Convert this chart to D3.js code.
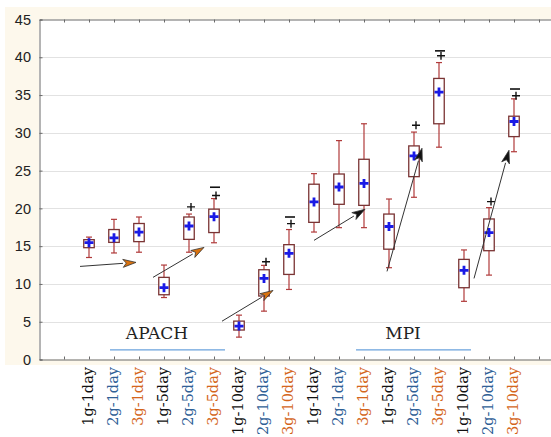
<!DOCTYPE html>
<html>
<head>
<meta charset="utf-8">
<script src="https://cdn.jsdelivr.net/npm/d3@7"></script>
<style>
  html, body { margin: 0; padding: 0; background: #fff; }
  svg { display: block; }
</style>
</head>
<body>
<div id="container"></div>
<script>
// category labels (same set for both groups)
const labels = ['1g-1day', '2g-1day', '3g-1day', '1g-5day', '2g-5day', '3g-5day', '1g-10day', '2g-10day', '3g-10day'];
const groups = ['APACH', 'MPI'];

// APACH stats
const apachMean = [15.46, 16.1, 16.87, 9.5, 17.67, 18.9, 4.42, 10.73, 14.05];
const apachBoxLo = [14.8, 15.5, 15.6, 8.57, 15.9, 16.8, 3.9, 8.4, 11.26];
const apachBoxHi = [15.86, 17.2, 18.0, 10.87, 18.86, 19.9, 5.08, 11.88, 15.2];
const apachWhiskLo = [13.5, 14.1, 14.2, 8.2, 14.2, 15.45, 2.96, 6.4, 9.27];
const apachWhiskHi = [16.2, 18.55, 18.86, 12.5, 19.25, 21.3, 5.87, 12.46, 17.2];
const apachPlus = [null, null, null, null, 20.2, 21.7, null, 12.94, 17.98];
const apachMinus = [null, null, null, null, null, 22.8, null, null, 18.86];

// MPI stats
const mpiMean = [20.85, 22.83, 23.3, 17.6, 26.94, 35.4, 11.8, 16.8, 31.5];
const mpiBoxLo = [18.15, 20.54, 20.4, 14.6, 24.2, 31.2, 9.5, 14.4, 29.5];
const mpiBoxHi = [23.2, 24.55, 26.5, 19.25, 28.27, 37.2, 13.25, 18.6, 32.2];
const mpiWhiskLo = [16.87, 17.45, 17.45, 12.15, 21.47, 28.1, 7.7, 11.17, 27.5];
const mpiWhiskHi = [24.6, 28.97, 31.2, 21.24, 30.1, 39.3, 14.5, 20.1, 34.5];
const mpiPlus = [null, null, null, null, 31.0, 40.2, null, 20.9, 34.9];
const mpiMinus = [null, null, null, null, null, 40.85, null, null, 35.8];

// y ticks
const yTicks = [0, 5, 10, 15, 20, 25, 30, 35, 40, 45];

// trend arrows [x1, y1, x2, y2] in data units, and head colour
const arrows = [
  [1.64, 12.32, 3.88, 12.85, 'orange'],
  [4.56, 10.87, 6.6, 14.84, 'orange'],
  [7.32, 5.07, 9.36, 9.14, 'orange'],
  [11.0, 15.77, 13.04, 19.88, 'black'],
  [13.92, 11.66, 15.32, 27.96, 'black'],
  [17.4, 10.73, 18.8, 27.69, 'black']
];

// group captions: [text, centre x, underline from, underline to]
const captions = [
  ['APACH', 4.72, 2.84, 7.44],
  ['MPI', 14.56, 12.68, 17.28]
];

const labelColors = { '1g': '#111111', '2g': '#2f6096', '3g': '#d4661c' };
const serifFont = 'DejaVu Serif';
const sansFont = 'Liberation Sans';

// build rows
const rows = [];
labels.forEach((l, i) => rows.push({ label: l, x: i + 2, mean: apachMean[i], lo: apachBoxLo[i], hi: apachBoxHi[i], wlo: apachWhiskLo[i], whi: apachWhiskHi[i], plus: apachPlus[i], minus: apachMinus[i] }));
labels.forEach((l, i) => rows.push({ label: l, x: i + 11, mean: mpiMean[i], lo: mpiBoxLo[i], hi: mpiBoxHi[i], wlo: mpiWhiskLo[i], whi: mpiWhiskHi[i], plus: mpiPlus[i], minus: mpiMinus[i] }));

const width = 551;
const height = 437;

const svg = d3.select('#container').append('svg')
  .attr('width', width)
  .attr('height', height);

// cream frame
svg.append('rect')
  .attr('x', 5).attr('y', 7)
  .attr('width', width - 5).attr('height', 358)
  .attr('fill', '#fdf8ec');

const xScale = d3.scaleLinear().domain([0, 20.5]).range([39, 551.5]);
const yScale = d3.scaleLinear().domain([0, 45]).range([359.5, 19.5]);

// plot area
svg.append('rect')
  .attr('x', 39).attr('y', 19.5)
  .attr('width', width - 39).attr('height', 340)
  .attr('fill', '#fff');

// gridlines
svg.append('g')
  .selectAll('line')
  .data(yTicks.filter(t => t > 0 && t < 45))
  .enter().append('line')
  .attr('x1', 39).attr('x2', width)
  .attr('y1', d => Math.round(yScale(d)) + 0.5)
  .attr('y2', d => Math.round(yScale(d)) + 0.5)
  .attr('stroke', '#e2e2e2')
  .attr('stroke-width', 1.2);

// axes
const xTicks = d3.range(1, 21);
const axisColor = '#6a6a6a';

const yAxis = svg.append('g')
  .attr('transform', 'translate(39.5,0)')
  .call(d3.axisRight(yScale).tickValues(yTicks).tickSize(3).tickFormat(''));
yAxis.select('.domain').attr('stroke', axisColor);
yAxis.selectAll('line').attr('stroke', axisColor);

svg.append('g')
  .selectAll('text')
  .data(yTicks)
  .enter().append('text')
  .attr('font-family', sansFont)
  .attr('x', 31)
  .attr('y', d => yScale(d))
  .attr('dy', '0.36em')
  .attr('text-anchor', 'end')
  .attr('font-size', 14.5)
  .attr('fill', '#222')
  .text(d => d);

const xAxisBottom = svg.append('g')
  .attr('transform', 'translate(0,359.5)')
  .call(d3.axisTop(xScale).tickValues(xTicks).tickSize(3).tickFormat('').tickSizeOuter(0));
xAxisBottom.select('.domain').attr('stroke', axisColor);
xAxisBottom.selectAll('line').attr('stroke', axisColor);

const xAxisTop = svg.append('g')
  .attr('transform', 'translate(0,19.5)')
  .call(d3.axisBottom(xScale).tickValues(xTicks).tickSize(3).tickFormat('').tickSizeOuter(0));
xAxisTop.select('.domain').attr('stroke', axisColor);
xAxisTop.selectAll('line').attr('stroke', axisColor);

// x labels, rotated
svg.append('g')
  .selectAll('text')
  .data(rows)
  .enter().append('text')
  .attr('font-family', serifFont)
  .attr('transform', d => 'translate(' + (xScale(d.x) + 4) + ',367) rotate(-90)')
  .attr('text-anchor', 'end')
  .attr('font-size', 14.5)
  .attr('fill', d => labelColors[d.label.slice(0, 2)])
  .text(d => d.label);

// captions
captions.forEach(c => {
  svg.append('text')
    .attr('font-family', serifFont)
    .attr('x', xScale(c[1]))
    .attr('y', yScale(2.65))
    .attr('text-anchor', 'middle')
    .attr('font-size', 17)
    .attr('fill', '#222')
    .text(c[0]);
  svg.append('line')
    .attr('x1', xScale(c[2])).attr('x2', xScale(c[3]))
    .attr('y1', yScale(1.28)).attr('y2', yScale(1.28))
    .attr('stroke', '#6aa2dc')
    .attr('stroke-width', 1.2);
});

// boxes
const boxW = 10.5;
const capW = 6;
const box = svg.append('g').selectAll('g')
  .data(rows)
  .enter().append('g');

box.append('line')
  .attr('x1', d => xScale(d.x)).attr('x2', d => xScale(d.x))
  .attr('y1', d => yScale(d.whi)).attr('y2', d => yScale(d.wlo))
  .attr('stroke', '#b03a3a').attr('stroke-width', 1.2);

box.append('line')
  .attr('x1', d => xScale(d.x) - capW / 2).attr('x2', d => xScale(d.x) + capW / 2)
  .attr('y1', d => yScale(d.whi)).attr('y2', d => yScale(d.whi))
  .attr('stroke', '#b03a3a').attr('stroke-width', 1.2);

box.append('line')
  .attr('x1', d => xScale(d.x) - capW / 2).attr('x2', d => xScale(d.x) + capW / 2)
  .attr('y1', d => yScale(d.wlo)).attr('y2', d => yScale(d.wlo))
  .attr('stroke', '#b03a3a').attr('stroke-width', 1.2);

box.append('rect')
  .attr('x', d => xScale(d.x) - boxW / 2)
  .attr('y', d => yScale(d.hi))
  .attr('width', boxW)
  .attr('height', d => yScale(d.lo) - yScale(d.hi))
  .attr('fill', '#fff')
  .attr('stroke', '#7a3434')
  .attr('stroke-width', 1.3);

// mean marker: thick blue plus
box.append('path')
  .attr('d', d => {
    const cx = xScale(d.x), cy = yScale(d.mean);
    return 'M' + (cx - 4.5) + ',' + cy + 'H' + (cx + 4.5) + 'M' + cx + ',' + (cy - 4.5) + 'V' + (cy + 4.5);
  })
  .attr('stroke', '#1a1ae6')
  .attr('stroke-width', 2.8);

// outlier plus and extreme minus marks
box.filter(d => d.plus != null).append('path')
  .attr('d', d => {
    const cx = xScale(d.x) + 2, cy = yScale(d.plus);
    return 'M' + (cx - 4) + ',' + cy + 'H' + (cx + 4) + 'M' + cx + ',' + (cy - 4) + 'V' + (cy + 4);
  })
  .attr('stroke', '#111').attr('stroke-width', 1.4);

box.filter(d => d.minus != null).append('line')
  .attr('x1', d => xScale(d.x) - 4).attr('x2', d => xScale(d.x) + 6)
  .attr('y1', d => yScale(d.minus)).attr('y2', d => yScale(d.minus))
  .attr('stroke', '#111').attr('stroke-width', 1.6);

// arrows
arrows.forEach(a => {
  const x1 = xScale(a[0]), y1 = yScale(a[1]), x2 = xScale(a[2]), y2 = yScale(a[3]);
  const ang = Math.atan2(y2 - y1, x2 - x1);
  const len = 13, half = 4;
  const bx = x2 - len * Math.cos(ang), by = y2 - len * Math.sin(ang);
  svg.append('line')
    .attr('x1', x1).attr('y1', y1).attr('x2', bx).attr('y2', by)
    .attr('stroke', '#333').attr('stroke-width', 1);
  const p1 = [bx - half * Math.sin(ang), by + half * Math.cos(ang)];
  const p2 = [bx + half * Math.sin(ang), by - half * Math.cos(ang)];
  svg.append('path')
    .attr('d', 'M' + x2 + ',' + y2 + 'L' + p1 + 'L' + (x2 - len * 0.75 * Math.cos(ang)) + ',' + (y2 - len * 0.75 * Math.sin(ang)) + 'L' + p2 + 'Z')
    .attr('fill', a[4] === 'orange' ? '#d9720f' : '#111')
    .attr('stroke', '#333')
    .attr('stroke-width', 0.8);
});
</script>
</body>
</html>
